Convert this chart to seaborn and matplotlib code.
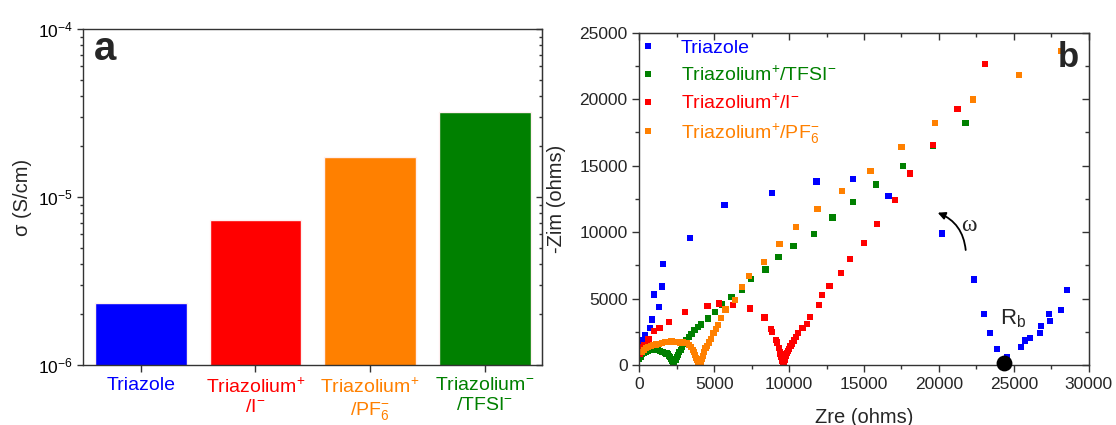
import numpy as np
import pandas as pd
import matplotlib
matplotlib.use("Agg")
import matplotlib.pyplot as plt
import seaborn as sns
from matplotlib.lines import Line2D
from matplotlib.ticker import MultipleLocator, LogLocator, NullFormatter

# ---------------- data ----------------
# (a) ionic conductivity of each sample
samples = ["Triazole", "Triazolium+/I-", "Triazolium+/PF6-", "Triazolium+/TFSI-"]
sample_ticklabels = [
    "Triazole",
    "Triazolium$^{+}$\n/I$^{-}$",
    "Triazolium$^{+}$\n/PF$_{6}^{-}$",
    "Triazolium$^{-}$\n/TFSI$^{-}$",
]
conductivity = [2.35e-6, 7.25e-6, 1.72e-5, 3.22e-5]

# (b) Nyquist plots (ohms)
triazole_zre = [0, 270, 360, 710, 850, 980, 1290, 1510, 1560, 3400, 5690, 8860, 11830,
                14240, 16630, 20200, 22360, 23010, 23390, 23880, 24565, 25460, 25770,
                26080, 26750, 26815, 27415, 27370, 28130, 28570]
triazole_zim = [1440, 1890, 2270, 2810, 3430, 5300, 4350, 5900, 7580, 9525, 12025, 12925,
                13800, 14000, 12725, 9900, 6440, 3830, 2390, 1220, 600, 1345, 1840, 2040,
                2390, 2960, 3335, 3830, 4155, 5670]

tfsi_zre = [0, 80, 190, 300, 425, 550, 660, 800, 945, 1100, 1250, 1400, 1550, 1700, 1820,
            1900, 1980, 2060, 2140, 2210, 2270, 2340, 2420, 2500, 2580, 2670, 2760, 2870,
            3000, 3150, 3310, 3480, 3680, 3900, 4100, 4560, 5050, 5540, 6160, 6830, 7470,
            8420, 9290, 10300, 11650, 12900, 14250, 15780, 17600, 19580, 21780]
tfsi_zim = [450, 620, 800, 900, 1000, 1060, 1110, 1150, 1180, 1170, 1130, 1060, 970, 900,
            860, 800, 700, 580, 450, 320, 180, 250, 420, 600, 780, 960, 1150, 1370, 1620,
            1850, 2080, 2330, 2620, 2870, 3050, 3500, 3980, 4550, 5120, 5680, 6450, 7180,
            8130, 8930, 9880, 11100, 12280, 13580, 14950, 16480, 18200]

iodide_zre = [30, 80, 150, 240, 330, 560, 620, 970, 1350, 2000, 3050, 4550, 5330, 6230,
              7400, 8360, 8790, 8840, 9110, 9200, 9300, 9380, 9430, 9480, 9520, 9560, 9590,
              9620, 9650, 9690, 9740, 9800, 9860, 9930, 10010, 10100, 10200, 10320, 10450,
              10580, 10900, 11220, 11380, 12000, 12180, 12700, 13470, 14070, 15000, 15850,
              17080, 18070, 19610, 21240, 23080]
iodide_zim = [850, 1050, 1250, 1330, 1500, 1650, 1950, 2530, 2800, 3250, 3980, 4460, 4620,
              4500, 4250, 3570, 2680, 2480, 1900, 1700, 1300, 1000, 800, 620, 450, 300, 180,
              100, 220, 380, 550, 720, 880, 1050, 1230, 1420, 1620, 1850, 2100, 2400, 2800,
              3100, 3620, 4500, 5250, 5950, 6930, 7950, 9200, 10620, 12400, 14400, 16580,
              19250, 22630]

pf6_zre = [150, 300, 450, 600, 780, 950, 1100, 1300, 1500, 1700, 1850, 2000, 2150, 2300,
           2450, 2600, 2750, 2900, 3050, 3200, 3330, 3450, 3560, 3650, 3730, 3800, 3860,
           3920, 3980, 4040, 4100, 4170, 4250, 4330, 4420, 4520, 4650, 4800, 4960, 5120,
           5250, 5480, 5750, 6380, 6830, 7300, 8340, 9360, 10440, 11900, 13540, 15430,
           17500, 19750, 22300, 25370, 28160]
pf6_zim = [1000, 1150, 1250, 1330, 1400, 1480, 1540, 1600, 1660, 1710, 1740, 1760, 1770,
           1750, 1740, 1720, 1700, 1690, 1680, 1630, 1500, 1350, 1150, 950, 750, 550, 380,
           220, 100, 100, 250, 450, 700, 950, 1250, 1450, 1700, 1950, 2420, 2700, 3000,
           3550, 4180, 4880, 5880, 6700, 7760, 9100, 10380, 11730, 13100, 14580, 16430,
           18180, 19980, 21800, 23600]

# bulk resistance read-out
rb_zre = [24320]
rb_zim = [150]

# ---------------- style ----------------
sns.set_style("ticks")
plt.rcParams["font.family"] = ["Liberation Sans", "DejaVu Sans"]
plt.rcParams["mathtext.fontset"] = "custom"
plt.rcParams["mathtext.rm"] = "Liberation Sans"
plt.rcParams["mathtext.it"] = "Liberation Sans:italic"
plt.rcParams["mathtext.bf"] = "Liberation Sans:bold"
plt.rcParams["mathtext.sf"] = "Liberation Sans"

BLUE, RED, ORANGE, GREEN = "#0000FF", "#FF0000", "#FF8000", "#008000"
SPINE = "#333333"
bar_colors = [BLUE, RED, ORANGE, GREEN]

W, H = 1116, 425
fig = plt.figure(figsize=(W / 100, H / 100), dpi=100)

# ---------------- (a) conductivity bars ----------------
ax1 = fig.add_axes([83.3 / W, 60 / H, 459 / W, 336 / H])
sns.barplot(x=samples, y=conductivity, hue=samples, palette=bar_colors, legend=False,
            width=0.8, edgecolor="#FFF0F0", linewidth=1.0, saturation=1, ax=ax1)
ax1.set_yscale("log")
ax1.set_ylim(1e-6, 1e-4)
ax1.set_xlim(-0.5, 3.5)
ax1.set_xticks(range(len(samples)), sample_ticklabels)
ax1.yaxis.set_minor_locator(LogLocator(base=10, subs=np.arange(2, 10)))
ax1.yaxis.set_minor_formatter(NullFormatter())
ax1.tick_params(axis="x", direction="out", length=5, width=1, pad=4, labelsize=14,
                colors=SPINE)
for lbl, c in zip(ax1.get_xticklabels(), bar_colors):
    lbl.set_color(c)
ax1.tick_params(axis="y", which="major", direction="out", length=4.3, width=1, pad=3,
                labelsize=12.5, labelcolor="black", color=SPINE)
ax1.tick_params(axis="y", which="minor", direction="out", length=2.5, width=1, color=SPINE)
ax1.set_ylabel("σ (S/cm)", fontsize=14.5)
ax1.yaxis.set_label_coords(-0.112, 0.5)
ax1.set_xlabel("")
for s in ax1.spines.values():
    s.set_color(SPINE)
    s.set_linewidth(1.0)

ax1r = ax1.secondary_yaxis("right")
ax1r.yaxis.set_major_locator(LogLocator(base=10))
ax1r.yaxis.set_minor_locator(LogLocator(base=10, subs=np.arange(2, 10)))
ax1r.tick_params(which="major", direction="in", length=4.3, width=1, labelright=False,
                 color=SPINE)
ax1r.tick_params(which="minor", direction="in", length=2.5, width=1, color=SPINE)
ax1r.yaxis.set_minor_formatter(NullFormatter())
ax1r.spines["right"].set_color(SPINE)

ax1.text(0.022, 0.908, "a", transform=ax1.transAxes, fontsize=29, fontweight="bold",
         ha="left", va="baseline")

# ---------------- (b) Nyquist plots ----------------
series = [
    ("Triazole", triazole_zre, triazole_zim),
    ("Triazolium$^{+}$/TFSI$^{-}$", tfsi_zre, tfsi_zim),
    ("Triazolium$^{+}$/I$^{-}$", iodide_zre, iodide_zim),
    ("Triazolium$^{+}$/PF$_{6}^{-}$", pf6_zre, pf6_zim),
]
series_colors = [BLUE, GREEN, RED, ORANGE]
df = pd.concat(
    [pd.DataFrame({"Zre": x, "Zim": y, "sample": name}) for name, x, y in series],
    ignore_index=True,
)

ax2 = fig.add_axes([639.3 / W, 60 / H, 449.4 / W, 332.3 / H])
sns.scatterplot(data=df, x="Zre", y="Zim", hue="sample",
                palette=dict(zip([s[0] for s in series], series_colors)),
                marker="s", s=20, linewidth=0, legend=False, ax=ax2)
ax2.set_xlim(0, 30000)
ax2.set_ylim(0, 25000)
ax2.xaxis.set_major_locator(MultipleLocator(5000))
ax2.xaxis.set_minor_locator(MultipleLocator(2500))
ax2.yaxis.set_major_locator(MultipleLocator(5000))
ax2.yaxis.set_minor_locator(MultipleLocator(2500))
ax2.tick_params(which="major", direction="out", length=5, width=1, pad=3.4,
                labelsize=12.5, color=SPINE)
ax2.tick_params(which="minor", direction="out", length=3, width=1, color=SPINE)
ax2.set_xlabel("Zre (ohms)", fontsize=14.5)
ax2.set_ylabel("-Zim (ohms)", fontsize=14.5)
ax2.xaxis.set_label_coords(0.5, -0.129)
ax2.yaxis.set_label_coords(-0.163, 0.5)
for s in ax2.spines.values():
    s.set_color(SPINE)
    s.set_linewidth(1.0)

ax2t = ax2.secondary_xaxis("top")
ax2t.xaxis.set_major_locator(MultipleLocator(5000))
ax2t.xaxis.set_minor_locator(MultipleLocator(2500))
ax2t.tick_params(which="major", direction="in", length=5, width=1, labeltop=False, color=SPINE)
ax2t.tick_params(which="minor", direction="in", length=3, width=1, color=SPINE)
ax2t.spines["top"].set_color(SPINE)
ax2r = ax2.secondary_yaxis("right")
ax2r.yaxis.set_major_locator(MultipleLocator(5000))
ax2r.yaxis.set_minor_locator(MultipleLocator(2500))
ax2r.tick_params(which="major", direction="in", length=5, width=1, labelright=False, color=SPINE)
ax2r.tick_params(which="minor", direction="in", length=3, width=1, color=SPINE)
ax2r.spines["right"].set_color(SPINE)

# bulk resistance marker and annotations
ax2.scatter(rb_zre, rb_zim, s=130, color="black", zorder=5, clip_on=False, linewidth=0)
ax2.text(24080, 3085, "R$_{\\mathrm{b}}$", fontsize=16, ha="left", va="baseline")
ax2.text(22010, 10495, "ω", fontsize=17, family=["Liberation Serif", "DejaVu Serif"],
         ha="center", va="center")
ax2.annotate("", xy=(19920, 11458), xytext=(21789, 8652),
             arrowprops=dict(arrowstyle="-|>", connectionstyle="arc3,rad=0.3",
                             color="black", lw=1.3, mutation_scale=11,
                             shrinkA=0, shrinkB=0))

handles = [Line2D([], [], ls="", marker="s", markersize=4.4, markeredgewidth=0, color=c)
           for c in series_colors]
ax2.legend(handles, [s[0] for s in series], loc="upper left",
           bbox_to_anchor=(0.0, 0.98), frameon=False, fontsize=14,
           borderpad=0, borderaxespad=0, handlelength=0.93, handletextpad=1.22,
           labelspacing=0.44, labelcolor=series_colors)

ax2.text(0.932, 0.898, "b", transform=ax2.transAxes, fontsize=25, fontweight="bold",
         ha="left", va="baseline")

fig.savefig("out.png", dpi=100)
